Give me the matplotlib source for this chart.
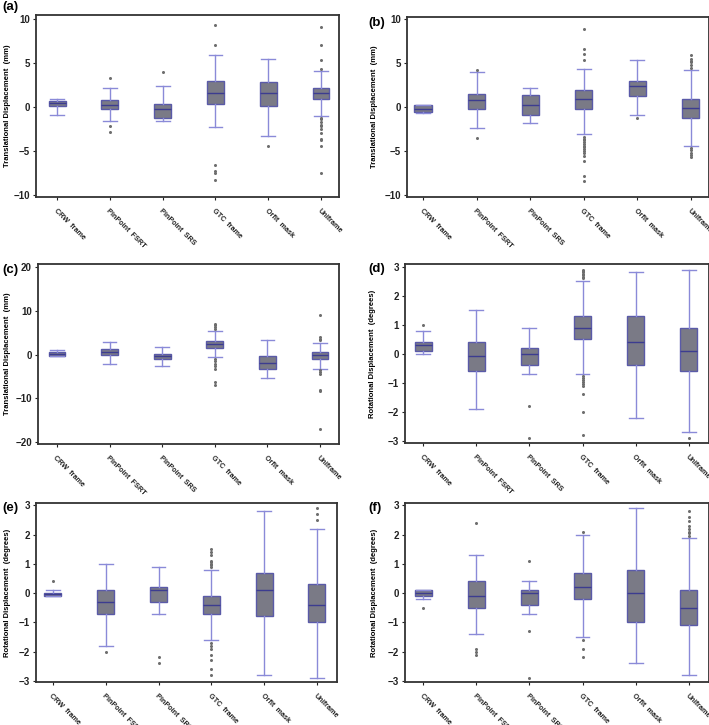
import matplotlib
matplotlib.use("Agg")
import matplotlib.pyplot as plt

plt.rcParams['font.family'] = ['Liberation Sans', 'DejaVu Sans']

categories = ["CRW  frame", "PinPoint  FSRT", "PinPoint  SRS", "GTC  frame", "Orfit  mask", "Uniframe"]

# Panel (a)
a_med = [0.45, 0.26, -0.26, 1.63, 1.59, 1.59]
a_q1 = [0.08, -0.23, -1.2, 0.34, 0.15, 0.87]
a_q3 = [0.64, 0.76, 0.34, 2.95, 2.87, 2.15]
a_lo = [-0.87, -1.63, -1.63, -2.23, -3.33, -1.02]
a_hi = [0.9, 2.15, 2.34, 5.86, 5.48, 4.08]
a_fl = [[], [3.25, -2.15, -2.9], [3.97], [9.34, 7.07, -6.54, -7.3, -7.5, -8.3], [-4.46],
        [9.04, 7.07, 5.37, 4.35, -1.2, -1.4, -1.7, -2.0, -2.2, -2.5, -3.0, -3.6, -3.8, -4.4, -7.5]]

# Panel (b)
b_med = [-0.2, 0.76, 0.27, 0.87, 2.4, -0.11]
b_q1 = [-0.6, -0.23, -0.95, -0.23, 1.25, -1.22]
b_q3 = [0.2, 1.44, 1.33, 1.9, 2.97, 0.95]
b_lo = [-0.65, -2.4, -1.82, -3.04, -0.95, -4.41]
b_hi = [0.27, 3.95, 2.2, 4.3, 5.4, 4.26]
b_fl = [[], [4.18, -3.5], [], [8.9, 6.6, 6.0, 5.4, -3.4, -3.6, -3.8, -4.0, -4.2, -4.4, -4.6, -4.8, -5.0, -5.3, -5.6, -6.1, -7.9, -8.4],
        [-1.3], [5.9, 5.5, 5.3, 5.1, 4.75, 4.5, -4.65, -4.95, -5.3, -5.5, -5.7]]

# Panel (c)
c_med = [0.15, 0.6, -0.38, 2.44, -1.83, 0.0]
c_q1 = [-0.23, -0.15, -1.07, 1.6, -3.2, -0.92]
c_q3 = [0.53, 1.37, 0.23, 3.13, -0.3, 0.53]
c_lo = [-0.2, -2.06, -2.52, -0.6, -5.34, -3.2]
c_hi = [1.15, 2.9, 1.83, 5.5, 3.44, 2.75]
c_fl = [[], [], [], [7.1, 6.7, 6.3, 5.95, -1.0, -1.45, -2.06, -2.67, -3.2, -6.26, -7.0], [],
        [9.0, 4.05, 3.66, 3.28, -3.6, -4.0, -4.4, -8.0, -8.4, -16.95]]

# Panel (d)
d_med = [0.31, -0.09, 0.0, 0.89, 0.4, 0.1]
d_q1 = [0.09, -0.6, -0.4, 0.5, -0.4, -0.6]
d_q3 = [0.4, 0.4, 0.2, 1.3, 1.3, 0.9]
d_lo = [0.0, -1.9, -0.7, -0.7, -2.2, -2.7]
d_hi = [0.8, 1.5, 0.9, 2.5, 2.8, 2.9]
d_fl = [[1.0], [], [-1.8, -2.9],
        [2.6, 2.65, 2.7, 2.75, 2.8, 2.85, 2.9, -0.78, -0.85, -0.9, -0.97, -1.03, -1.1, -1.4, -2.0, -2.8],
        [], [-2.9]]

# Panel (e)
e_med = [-0.03, -0.3, 0.1, -0.4, 0.1, -0.4]
e_q1 = [-0.1, -0.7, -0.3, -0.7, -0.8, -1.0]
e_q3 = [0.0, 0.1, 0.2, -0.1, 0.7, 0.3]
e_lo = [-0.1, -1.8, -0.7, -1.6, -2.8, -2.9]
e_hi = [0.1, 1.0, 0.9, 0.8, 2.8, 2.2]
e_fl = [[0.4], [-2.0], [-2.2, -2.4],
        [1.5, 1.4, 1.3, 1.1, 1.05, 1.0, 0.95, 0.9, -1.7, -1.8, -1.9, -2.1, -2.3, -2.6, -2.8],
        [], [2.9, 2.7, 2.5]]

# Panel (f)
f_med = [0.0, -0.1, 0.0, 0.2, 0.0, -0.5]
f_q1 = [-0.1, -0.5, -0.4, -0.2, -1.0, -1.1]
f_q3 = [0.1, 0.4, 0.1, 0.7, 0.8, 0.1]
f_lo = [-0.2, -1.4, -0.7, -1.5, -2.4, -2.8]
f_hi = [0.1, 1.3, 0.4, 2.0, 2.9, 1.9]
f_fl = [[-0.5], [2.4, -1.9, -2.0, -2.1], [1.1, -1.3, -2.9], [2.1, -1.6, -1.9, -2.2], [],
        [2.8, 2.6, 2.45, 2.3, 2.2, 2.1, 2.05, 1.95]]

panels = [
    ("(a)", a_med, a_q1, a_q3, a_lo, a_hi, a_fl, "Translational Displacement  (mm)", [-10, -5, 0, 5, 10]),
    ("(b)", b_med, b_q1, b_q3, b_lo, b_hi, b_fl, "Translational Displacement  (mm)", [-10, -5, 0, 5, 10]),
    ("(c)", c_med, c_q1, c_q3, c_lo, c_hi, c_fl, "Translational Displacement  (mm)", [-20, -10, 0, 10, 20]),
    ("(d)", d_med, d_q1, d_q3, d_lo, d_hi, d_fl, "Rotational Displacement  (degrees)", [-3, -2, -1, 0, 1, 2, 3]),
    ("(e)", e_med, e_q1, e_q3, e_lo, e_hi, e_fl, "Rotational Displacement  (degrees)", [-3, -2, -1, 0, 1, 2, 3]),
    ("(f)", f_med, f_q1, f_q3, f_lo, f_hi, f_fl, "Rotational Displacement  (degrees)", [-3, -2, -1, 0, 1, 2, 3]),
]

# layout (pixels: left, right, top, bottom), ylim, xlim, panel label position
W, H = 709, 725
rects = [(36, 339, 15, 197), (407, 709, 17, 197), (38, 339, 264, 444),
         (405, 709, 264, 443), (36, 337, 503, 682), (405, 709, 503, 682)]
ylims = [(-10.23, 10.45), (-10.26, 10.26), (-20.46, 20.75), (-3.07, 3.09), (-3.04, 3.08), (-3.04, 3.08)]
xlims = [(-0.40, 5.34), (-0.30, 5.34), (-0.36, 5.36), (-0.34, 5.38), (-0.32, 5.38), (-0.34, 5.38)]
labpos = [(2, 7), (368, 23), (2, 270), (368, 269), (2, 508), (368, 508)]
ylab_x = [8, 374, 8, 373, 8, 375]

fig = plt.figure(figsize=(W / 100, H / 100), dpi=100)

box_face = "#7a7a86"
box_edge = "#5a5aa8"
whisk = "#8a8ad8"
med_col = "#3c3c90"

for i, (lab, med, q1, q3, lo, hi, fl, ylab, yt) in enumerate(panels):
    l, r, t, b = rects[i]
    ax = fig.add_axes([l / W, 1 - b / H, (r - l) / W, (b - t) / H])
    stats = []
    for k in range(len(categories)):
        stats.append(dict(med=med[k], q1=q1[k], q3=q3[k], whislo=lo[k], whishi=hi[k],
                          fliers=fl[k], label=categories[k]))
    ax.bxp(stats, positions=range(len(categories)), widths=0.32, capwidths=0.26,
           patch_artist=True, showfliers=True,
           boxprops=dict(facecolor=box_face, edgecolor=box_edge, linewidth=1.0),
           medianprops=dict(color=med_col, linewidth=1.0),
           whiskerprops=dict(color=whisk, linewidth=1.0),
           capprops=dict(color=whisk, linewidth=1.0),
           flierprops=dict(marker='o', markersize=2.2, markerfacecolor="#6e6e6e",
                           markeredgecolor="none", linestyle='none'))
    ax.set_xlim(*xlims[i])
    ax.set_ylim(*ylims[i])
    ax.set_yticks(yt)
    ax.set_yticklabels([("\u2212" + str(abs(v))) if v < 0 else str(v) for v in yt],
                       fontsize=7, fontweight='bold')
    ax.set_xticks(range(len(categories)))
    ax.set_xticklabels(categories, rotation=-45, ha='left', rotation_mode='anchor',
                       fontsize=5.2, fontweight='bold')
    ax.tick_params(axis='both', length=2.5, width=0.8, pad=2, colors='#222222')
    ax.tick_params(axis='x', pad=5)
    for s in ax.spines.values():
        s.set_linewidth(1.3)
        s.set_color('#333333')
    ax.set_ylabel(ylab, fontsize=5.5, fontweight='bold', va='center')
    ax.yaxis.set_label_coords((ylab_x[i] - l) / (r - l), 0.5)
    fig.text(labpos[i][0] / W, 1 - labpos[i][1] / H, lab, fontsize=9.5, fontweight='bold',
             ha='left', va='center')

fig.savefig("out.png", dpi=100)
